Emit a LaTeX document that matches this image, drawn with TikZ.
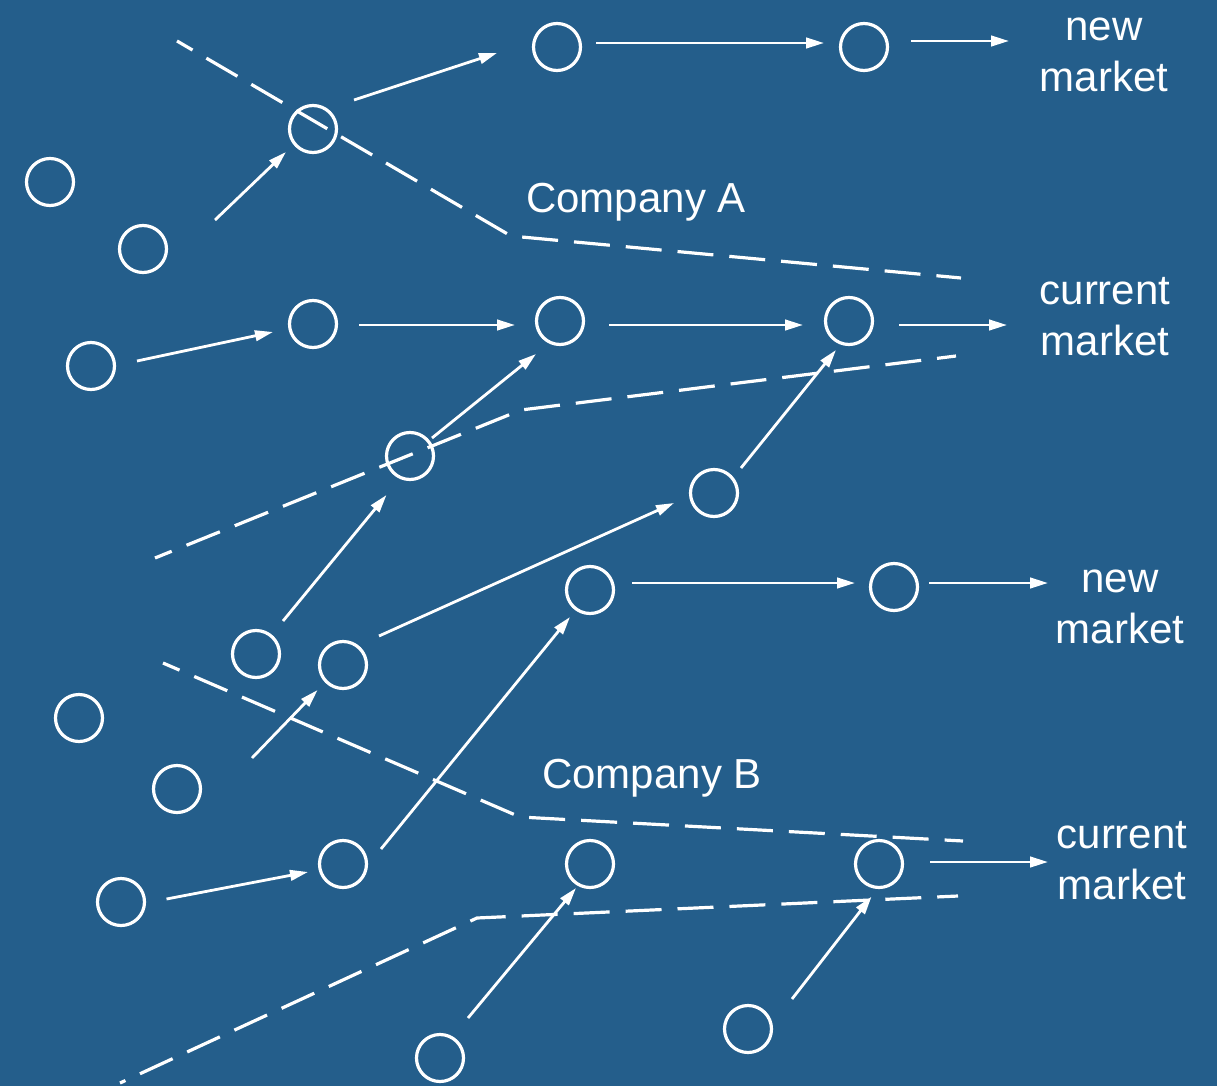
\documentclass[tikz,border=0pt]{standalone}
\usepackage{fontspec}
\setmainfont{Liberation Sans}
\usetikzlibrary{arrows.meta}
\definecolor{bg}{HTML}{245E8B}
\begin{document}
\begin{tikzpicture}[x=1pt,y=-1pt,
  dot/.style={circle,draw=white,line width=3.2pt,minimum size=47pt,inner sep=0pt},
  arr/.style={draw=white,line width=2.8pt,-{Triangle[length=18pt,width=10.5pt]}},
  bound/.style={draw=white,line width=3.2pt,dash pattern=on 36pt off 16pt,dash phase=18pt},
  lbl/.style={text=white,font=\fontsize{42}{51}\selectfont,align=center,inner sep=0pt}]
\fill[bg] (0,0) rectangle (1217,1086);
\useasboundingbox (0,0) rectangle (1217,1086);
% circles
\node[dot] (a1) at (313,129) {};
\node[dot] (a2) at (557,47) {};
\node[dot] (a3) at (864,47) {};
\node[dot] (l1) at (50,182) {};
\node[dot] (l2) at (143,249) {};
\node[dot] (b0) at (91,366) {};
\node[dot] (b1) at (313,324) {};
\node[dot] (b2) at (560,321) {};
\node[dot] (b3) at (849,321) {};
\node[dot] (b4) at (410,456) {};
\node[dot] (b5) at (714,493) {};
\node[dot] (c1) at (256,654) {};
\node[dot] (c2) at (343,665) {};
\node[dot] (d1) at (590,590) {};
\node[dot] (d2) at (894,587) {};
\node[dot] (l3) at (79,718) {};
\node[dot] (l4) at (177,789) {};
\node[dot] (e0) at (121,902) {};
\node[dot] (e1) at (343,864) {};
\node[dot] (e2) at (590,864) {};
\node[dot] (e3) at (879,864) {};
\node[dot] (f1) at (440,1058) {};
\node[dot] (f2) at (748,1029) {};
% labels
\node[lbl,anchor=base] (compA) at (636,212) {Company A};
\node[lbl,anchor=base] (compB) at (652,788) {Company B};
\node[lbl] (nmA) at (1104,55) {new\\market};
\node[lbl] (cmA) at (1105,317) {current\\market};
\node[lbl] (nmB) at (1120,607) {new\\market};
\node[lbl] (cmB) at (1122,861) {current\\market};
% arrow end points
\coordinate (s1) at (215,220);   \coordinate (t1) at (286,152);
\coordinate (s2) at (354,100);   \coordinate (t2) at (497,53);
\coordinate (s3) at (596,43);    \coordinate (t3) at (824,43);
\coordinate (s4) at (911,41);    \coordinate (t4) at (1009,41);
\coordinate (s5) at (137,361);   \coordinate (t5) at (273,332);
\coordinate (s6) at (359,325);   \coordinate (t6) at (515,325);
\coordinate (s7) at (609,325);   \coordinate (t7) at (803,325);
\coordinate (s8) at (899,325);   \coordinate (t8) at (1007,325);
\coordinate (s9) at (432,438);   \coordinate (t9) at (536,354);
\coordinate (s10) at (283,621);  \coordinate (t10) at (386.5,495);
\coordinate (s11) at (741,468);  \coordinate (t11) at (836,350);
\coordinate (s12) at (379,636);  \coordinate (t12) at (674,503);
\coordinate (s13) at (252,758);  \coordinate (t13) at (317.6,690);
\coordinate (s14) at (381,849);  \coordinate (t14) at (570,617);
\coordinate (s15) at (632,583);  \coordinate (t15) at (855,583);
\coordinate (s16) at (929,583);  \coordinate (t16) at (1048,583);
\coordinate (s17) at (166.5,899);\coordinate (t17) at (308,872);
\coordinate (s18) at (930,862);  \coordinate (t18) at (1048,862);
\coordinate (s19) at (468,1018); \coordinate (t19) at (576,888);
\coordinate (s20) at (792,999);  \coordinate (t20) at (871.5,896.7);
\foreach \i in {1,...,20} \draw[arr] (s\i) -- (t\i);
% boundaries
\coordinate (ua0) at (177,41);  \coordinate (ua1) at (511,236);  \coordinate (ua2) at (961,278);
\coordinate (la0) at (155,558); \coordinate (la1) at (521,410);  \coordinate (la2) at (956,356);
\coordinate (ub0) at (163,663); \coordinate (ub1) at (520,817);  \coordinate (ub2) at (963,841);
\coordinate (lb0) at (120,1083);\coordinate (lb1) at (477,918);  \coordinate (lb2) at (958,896);
\draw[bound] (ua0) -- (ua1) -- (ua2);
\draw[bound] (la0) -- (la1) -- (la2);
\draw[bound] (ub0) -- (ub1) -- (ub2);
\draw[bound,dash phase=30pt] (lb0) -- (lb1) -- (lb2);
\end{tikzpicture}
\end{document}
